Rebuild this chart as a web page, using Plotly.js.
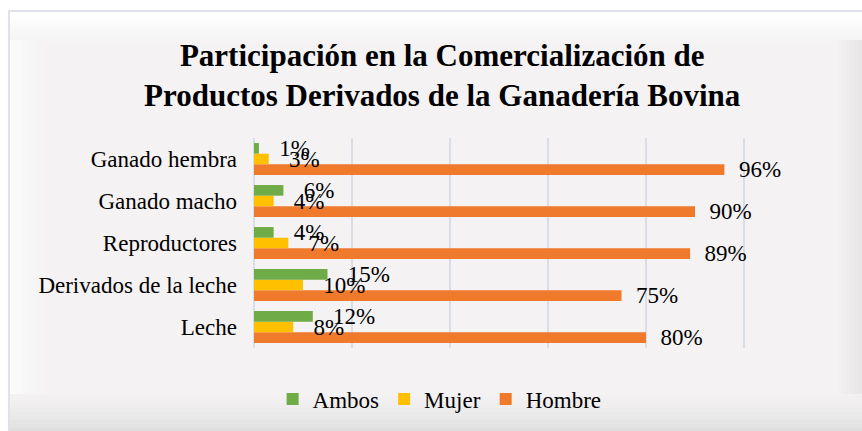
<!DOCTYPE html>
<html>
<head>
<meta charset="utf-8">
<script src="https://cdn.plot.ly/plotly-3.0.1.min.js"></script>
<style>html,body{margin:0;padding:0;background:#fff;}#chart{width:862px;height:431px;}</style>
</head>
<body>
<div id="chart"></div>
<script>
// Data (bottom-to-top category order, as in the source chart)
const categories = ["Leche", "Derivados de la leche", "Reproductores", "Ganado macho", "Ganado hembra"];
const ambos  = [12, 15, 4, 6, 1];
const mujer  = [8, 10, 7, 4, 3];
const hombre = [80, 75, 89, 90, 96];
const seriesNames = ["Ambos", "Mujer", "Hombre"];
const xTicks = [0, 20, 40, 60, 80, 100, 120];

const W = 862, H = 431;
const M = {l: 254, r: 20, t: 138, b: 83};
const PW = W - M.l - M.r, PH = H - M.t - M.b;
const px = v => (v - M.l) / PW;
const py = v => (H - M.b - v) / PH;

const serif = "'Liberation Serif', 'Times New Roman', serif";

function barTrace(name, vals, color, pad) {
  return {
    type: "bar", orientation: "h", name: name,
    y: categories, x: vals,
    marker: {color: color},
    texttemplate: pad + "%{x}%",
    textposition: "outside",
    constraintext: "none",
    cliponaxis: false,
    textfont: {family: serif, size: 23, color: "#000"},
    hoverinfo: "skip"
  };
}

const nb = "\u00a0";
const traces = [
  barTrace(seriesNames[2], hombre, "#ef7a2c", nb + nb),
  barTrace(seriesNames[1], mujer, "#ffc000", nb + nb + nb),
  barTrace(seriesNames[0], ambos, "#6fab46", nb + nb + nb)
];

// Decorative frame (Excel-like bevelled chart area)
const shapes = [];
function rectPx(x0, y0, x1, y1, fill, line) {
  shapes.push({type: "rect", xref: "paper", yref: "paper", layer: "below",
    x0: px(x0), x1: px(x1), y0: py(y1), y1: py(y0),
    fillcolor: fill, line: line || {width: 0}});
}
rectPx(9, 11, 880, 440, "#f4f2f3", {color: "#dfe2ea", width: 2});
function lerp(a, b, t) { return a.map((v, i) => Math.round(v + (b[i] - v) * t)); }
function rgb(c) { return "rgb(" + c.join(",") + ")"; }
const base = [244, 242, 243];
// top band
for (let i = 0; i < 10; i++) {
  const t = i / 10;
  rectPx(10, 12 + i * 3, 870, 15 + i * 3, rgb(lerp([255, 255, 255], base, t)));
}
// left band
for (let i = 0; i < 6; i++) {
  const t = i / 6;
  rectPx(10 + i * 6, 40, 16 + i * 6, 400, rgb(lerp([250, 250, 250], base, t)));
}
// right band
for (let i = 0; i < 6; i++) {
  const t = (i + 1) / 6;
  rectPx(838 + i * 4, 40, 842 + i * 4, 400, rgb(lerp(base, [232, 230, 231], t)));
}
// bottom band
for (let i = 0; i < 14; i++) {
  const t = Math.pow((i + 1) / 14, 1.3);
  rectPx(10, 394 + i * 2.7, 870, 396.7 + i * 2.7, rgb(lerp(base, [224, 223, 224], t)));
}

const layout = {
  width: W, height: H,
  margin: M,
  paper_bgcolor: "#ffffff",
  plot_bgcolor: "rgba(0,0,0,0)",
  barmode: "group",
  bargap: 0.24,
  bargroupgap: 0,
  showlegend: true,
  title: {
    text: "Participación en la Comercialización de<br>Productos Derivados de la Ganadería Bovina",
    font: {family: serif, size: 31, color: "#000", weight: 700},
    xref: "container", x: 0.513, xanchor: "center",
    yref: "container", y: 1 - 66 / H, yanchor: "middle"
  },
  xaxis: {
    range: [0, 120], tickvals: xTicks, showticklabels: false,
    showgrid: true, gridcolor: "#d9dee6", gridwidth: 1.5,
    zeroline: true, zerolinecolor: "#d9dee6", zerolinewidth: 1.5,
    fixedrange: true
  },
  yaxis: {
    type: "category", categoryorder: "array", categoryarray: categories,
    tickfont: {family: serif, size: 23, color: "#000"}, ticks: "", ticklabelstandoff: 16,
    showgrid: false, zeroline: false, showline: false, fixedrange: true
  },
  legend: {
    orientation: "h", traceorder: "reversed",
    xref: "container", x: 0.51, xanchor: "center",
    yref: "container", y: 1 - 399 / H, yanchor: "middle",
    font: {family: serif, size: 23, color: "#000"}, bgcolor: "rgba(0,0,0,0)"
  },
  shapes: shapes
};

Plotly.newPlot("chart", traces, layout, {displayModeBar: false, staticPlot: true});
</script>
</body>
</html>
